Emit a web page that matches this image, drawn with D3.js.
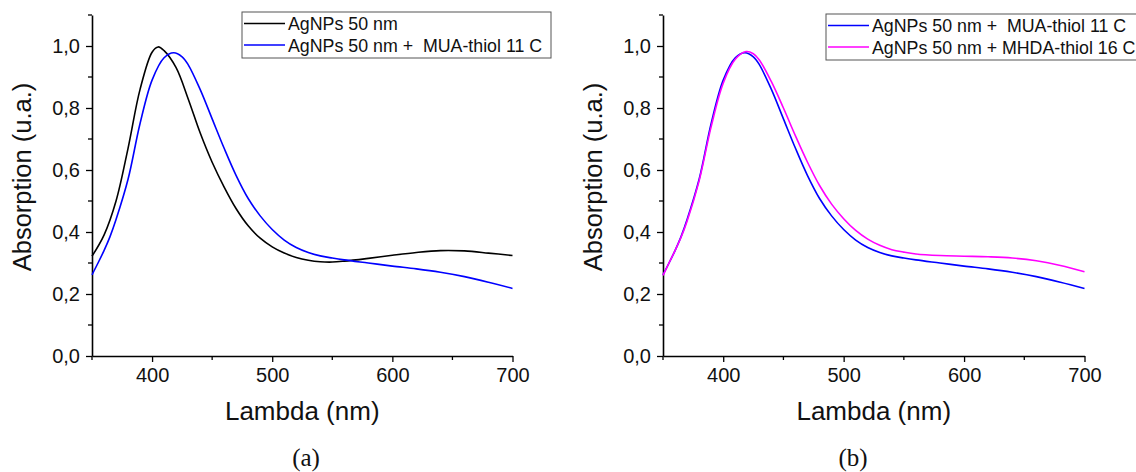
<!DOCTYPE html>
<html><head><meta charset="utf-8">
<script src="https://cdn.jsdelivr.net/npm/d3@7"></script>
<style>
html,body{margin:0;padding:0;background:#fff;}
svg{display:block;}
text{font-family:"Liberation Sans",Arial,sans-serif;}
</style></head>
<body>
<script>
// ---------- data ----------
const lambdaAg = [350,360,370,380,390,400,405,410,420,430,440,450,460,470,480,490,500,510,520,530,540,550,560,580,600,620,640,660,680,700];
const absAg    = [0.322,0.39,0.50,0.67,0.86,0.98,0.997,0.985,0.93,0.83,0.72,0.625,0.545,0.475,0.42,0.38,0.352,0.332,0.318,0.309,0.304,0.303,0.306,0.315,0.325,0.334,0.340,0.339,0.332,0.324];

const lambdaMUA = [350,355,360,365,370,380,390,400,410,418,425,430,440,450,460,470,480,490,500,510,520,530,540,550,560,580,600,620,640,660,680,700];
const absMUA    = [0.262,0.30,0.34,0.385,0.44,0.57,0.75,0.89,0.962,0.978,0.965,0.94,0.86,0.765,0.67,0.582,0.508,0.452,0.408,0.374,0.35,0.334,0.323,0.316,0.31,0.30,0.29,0.281,0.27,0.256,0.238,0.218];

const lambdaMHDA = [350,355,360,365,370,380,390,400,410,419,425,430,440,450,460,470,480,490,500,510,520,530,540,550,560,580,600,620,640,660,680,700];
const absMHDA    = [0.26,0.30,0.34,0.383,0.435,0.565,0.74,0.88,0.957,0.982,0.975,0.955,0.885,0.80,0.71,0.625,0.55,0.49,0.443,0.405,0.377,0.357,0.343,0.335,0.329,0.324,0.322,0.32,0.316,0.307,0.292,0.272];

const xMajorTicks = [400,500,600,700];
const xMinorTicks = [350,450,550,650];
const yMajorTicks = [0,0.2,0.4,0.6,0.8,1.0];
const yMinorTicks = [0.1,0.3,0.5,0.7,0.9,1.1];

const labelsA = ["AgNPs 50 nm","AgNPs 50 nm +  MUA-thiol 11 C"];
const labelsB = ["AgNPs 50 nm +  MUA-thiol 11 C","AgNPs 50 nm + MHDA-thiol 16 C"];
const xTitle = "Lambda (nm)";
const yTitle = "Absorption (u.a.)";
const captions = ["(a)","(b)"];

// ---------- drawing ----------
const W = 1136, H = 472;
const svg = d3.select("body").append("svg").attr("width",W).attr("height",H);

function panel(cfg){
  const x = d3.scaleLinear().domain([350,700]).range([cfg.x0, cfg.x1]);
  const y = d3.scaleLinear().domain([0,1.1]).range([356,15]);
  const g = svg.append("g");
  const fmt = d => d3.format(".1f")(d).replace(".",",");

  // x axis
  const gx = g.append("g").attr("transform","translate(0,356)")
    .call(d3.axisBottom(x).tickValues(xMajorTicks).tickSize(6).tickSizeOuter(0).tickPadding(6).tickFormat(d3.format("d")));
  gx.append("g").selectAll("line").data(xMinorTicks).join("line")
    .attr("x1",d=>x(d)).attr("x2",d=>x(d)).attr("y1",0).attr("y2",4).attr("stroke","#000").attr("stroke-width",1.3);
  // y axis
  const gy = g.append("g").attr("transform",`translate(${cfg.x0},0)`)
    .call(d3.axisLeft(y).tickValues(yMajorTicks).tickSize(6).tickSizeOuter(0).tickPadding(6).tickFormat(fmt));
  gy.append("g").selectAll("line").data(yMinorTicks).join("line")
    .attr("y1",d=>y(d)).attr("y2",d=>y(d)).attr("x1",0).attr("x2",-4).attr("stroke","#000").attr("stroke-width",1.3);
  [gx,gy].forEach(a=>{
    a.select(".domain").attr("stroke","#000").attr("stroke-width",1.6);
    a.selectAll(".tick line").attr("stroke","#000").attr("stroke-width",1.3);
    a.selectAll(".tick text").attr("font-size",20).attr("fill","#111").style("font-family","'Liberation Sans',Arial,sans-serif");
  });
  // lines
  const line = d3.line().curve(d3.curveCatmullRom.alpha(0.5)).x(d=>x(d[0])).y(d=>y(d[1]));
  cfg.series.forEach(s=>{
    g.append("path").datum(d3.zip(s.xs,s.ys)).attr("d",line)
      .attr("fill","none").attr("stroke",s.color).attr("stroke-width",1.6);
  });
  // titles
  g.append("text").attr("x",(cfg.x0+cfg.x1)/2).attr("y",420).attr("text-anchor","middle")
    .attr("font-size",26).attr("fill","#111").text(xTitle);
  g.append("text").attr("transform",`translate(${cfg.x0-61},177) rotate(-90)`).attr("text-anchor","middle")
    .attr("font-size",25.5).attr("fill","#111").text(yTitle);
  g.append("text").attr("x",cfg.capX).attr("y",466).attr("text-anchor","middle")
    .attr("font-size",25).attr("fill","#111").style("font-family","'Liberation Serif','DejaVu Serif',serif").text(cfg.caption);
  // legend
  const lg = g.append("g");
  lg.append("rect").attr("x",cfg.lx).attr("y",cfg.ly).attr("width",cfg.lw).attr("height",46)
    .attr("fill","#fff").attr("stroke","#555").attr("stroke-width",1);
  cfg.series.forEach((s,i)=>{
    const yy = cfg.ly + 11.5 + i*21.5;
    lg.append("line").attr("x1",cfg.lx+2).attr("x2",cfg.lx+43).attr("y1",yy).attr("y2",yy)
      .attr("stroke",s.color).attr("stroke-width",1.6);
    lg.append("text").attr("x",cfg.lx+46).attr("y",yy+6.5).attr("font-size",17.8).attr("fill","#111")
      .style("white-space","pre").attr("xml:space","preserve").text(s.label);
  });
}

panel({x0:92, x1:512.5, capX:306, caption:captions[0], lx:242, ly:12, lw:309,
  series:[{xs:lambdaAg, ys:absAg, color:"#000000", label:labelsA[0]},
          {xs:lambdaMUA, ys:absMUA, color:"#0000ff", label:labelsA[1]}]});
panel({x0:663, x1:1084.5, capX:853, caption:captions[1], lx:826, ly:14, lw:320,
  series:[{xs:lambdaMUA, ys:absMUA, color:"#0000ff", label:labelsB[0]},
          {xs:lambdaMHDA, ys:absMHDA, color:"#ff00ff", label:labelsB[1]}]});
</script>
</body></html>
